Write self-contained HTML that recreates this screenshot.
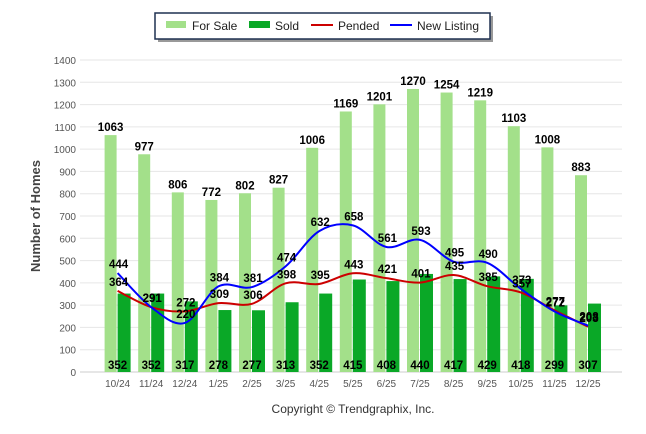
<!DOCTYPE html>
<html><head><meta charset="utf-8"><style>
body{margin:0;background:#fff;font-family:"Liberation Sans",Arial,sans-serif}
svg{display:block}
</style></head><body>
<svg id="c" width="646" height="434" xmlns="http://www.w3.org/2000/svg">
<g id="grid"></g><g id="bars"></g><g id="lines"></g><g id="labels"></g>
<text x="40" y="216" transform="rotate(-90 40 216)" text-anchor="middle" font-size="13" font-weight="bold" fill="#444">Number of Homes</text>
<text x="353" y="413" text-anchor="middle" font-size="12" fill="#333">Copyright © Trendgraphix, Inc.</text>
<g>
<rect x="158" y="16" width="335" height="26" fill="#999"/>
<rect x="155" y="13" width="335" height="26" fill="#fff" stroke="#1f3050" stroke-width="1.5"/>
<rect x="166" y="21" width="20" height="7" fill="#a3e08a"/>
<text x="192" y="30" font-size="12" fill="#222">For Sale</text>
<rect x="249" y="21" width="21" height="7" fill="#0aa827"/>
<text x="275" y="30" font-size="12" fill="#222">Sold</text>
<line x1="311" y1="25" x2="333" y2="25" stroke="#c00" stroke-width="2"/>
<text x="338" y="30" font-size="12" fill="#222">Pended</text>
<line x1="390" y1="25" x2="412" y2="25" stroke="#00f" stroke-width="2"/>
<text x="417" y="30" font-size="12" fill="#222">New Listing</text>
</g>
</svg>
<script>
const categories=["10/24","11/24","12/24","1/25","2/25","3/25","4/25","5/25","6/25","7/25","8/25","9/25","10/25","11/25","12/25"];
const forSale=[1063,977,806,772,802,827,1006,1169,1201,1270,1254,1219,1103,1008,883];
const sold=[352,352,317,278,277,313,352,415,408,440,417,429,418,299,307];
const pended=[364,291,272,309,306,398,395,443,421,401,435,385,357,277,203];
const newListing=[444,291,220,384,381,474,632,658,561,593,495,490,373,272,208];
const yTicks=[0,100,200,300,400,500,600,700,800,900,1000,1100,1200,1300,1400];
const NS="http://www.w3.org/2000/svg";
const y=v=>372-v*312/1400;
const x=i=>84+33.6*(i+1);
function mk(tag,attrs,parent,txt){const e=document.createElementNS(NS,tag);for(const k in attrs)e.setAttribute(k,attrs[k]);if(txt!==undefined)e.textContent=txt;document.getElementById(parent).appendChild(e);return e;}
yTicks.forEach(t=>{
 const g=mk('line',{x1:80,x2:622,y1:y(t),y2:y(t),stroke:t?'#e6e6e6':'#ccc','stroke-width':1},'grid');
 
 
 const l=mk('text',{x:76,y:y(t)+4,'text-anchor':'end','font-size':10,fill:'#555'},'grid',t);
 
 
});
categories.forEach((c,i)=>{
 const l=mk('text',{x:x(i),y:387,'text-anchor':'middle','font-size':10,fill:'#555'},'grid',c);
 
 
 const a=mk('rect',{x:x(i)-13,y:y(forSale[i]),width:12,height:372-y(forSale[i]),fill:'#a3e08a'},'bars');
 
 
 const b=mk('rect',{x:x(i),y:y(sold[i]),width:13,height:372-y(sold[i]),fill:'#0aa827'},'bars');
 
 
 const t1=mk('text',{x:x(i)-7,y:y(forSale[i])-4,'text-anchor':'middle','font-size':11.5,'font-weight':'bold',fill:'#000'},'labels',forSale[i]);
 
 
 const t2=mk('text',{x:x(i),y:369,'text-anchor':'middle','font-size':11.5,'font-weight':'bold',fill:'#000'},'labels',sold[i]);
 
 
});
function smooth(vals){
 const p=vals.map((v,i)=>[x(i),y(v)]);let d='M'+p[0][0]+','+p[0][1];
 for(let i=0;i<p.length-1;i++){const p0=p[i-1]||p[i],p1=p[i],p2=p[i+1],p3=p[i+2]||p2;
  d+=` C${p1[0]+(p2[0]-p0[0])/6},${p1[1]+(p2[1]-p0[1])/6} ${p2[0]-(p3[0]-p1[0])/6},${p2[1]-(p3[1]-p1[1])/6} ${p2[0]},${p2[1]}`;}
 return d;}
const pl=mk('path',{d:smooth(pended),fill:'none',stroke:'#c00','stroke-width':2},'lines');


const nl=mk('path',{d:smooth(newListing),fill:'none',stroke:'#00f','stroke-width':2},'lines');


[[pended,'pended-value'],[newListing,'new-listing-value']].forEach(([arr,n])=>arr.forEach((v,i)=>{
 const t=mk('text',{x:x(i)+1,y:y(v)-5,'text-anchor':'middle','font-size':11.5,'font-weight':'bold',fill:'#000'},'labels',v);
 
 
}));
</script>
</body></html>
